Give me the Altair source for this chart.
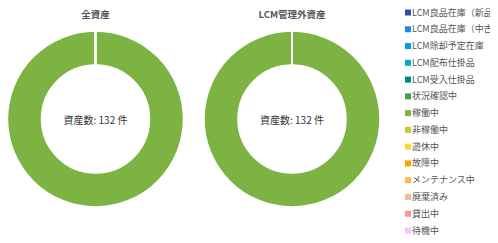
import altair as alt
import pandas as pd

categories = [
    "LCM良品在庫（新品）", "LCM良品在庫（中古品）", "LCM除却予定在庫", "LCM配布仕掛品",
    "LCM受入仕掛品", "状況確認中", "稼働中", "非稼働中", "遊休中", "故障中",
    "メンテナンス中", "廃棄済み", "貸出中", "待機中",
]
colors = [
    "#3949ab", "#1e88e5", "#039be5", "#00acc1", "#00897b", "#43a047", "#7cb342",
    "#c0ca33", "#fdd835", "#ffa000", "#ffb74d", "#efbc9b", "#ef9a9a", "#f0c8f8",
]
all_values = [0, 0, 0, 0, 0, 0, 132, 0, 0, 0, 0, 0, 0, 0]
lcm_values = [0, 0, 0, 0, 0, 0, 132, 0, 0, 0, 0, 0, 0, 0]
panel_titles = ["全資産", "LCM管理外資産"]

FONT = "Noto Sans CJK JP"
color_scale = alt.Scale(domain=categories, range=colors)


def donut(title, values, cx, cy):
    df = pd.DataFrame({"status": categories, "count": values, "idx": list(range(len(categories)))})
    arc = alt.Chart(df).mark_arc(radius=88, radius2=54, stroke="white", strokeWidth=1.5).encode(
        theta=alt.Theta("count:Q", stack=True),
        color=alt.Color("status:N", scale=color_scale, legend=None),
        order=alt.Order("idx:Q"),
        x=alt.value(cx), y=alt.value(cy),
    )
    label = pd.DataFrame({"t": [f"資産数: {sum(values)} 件"]})
    text = alt.Chart(label).mark_text(fontSize=10, font=FONT, color="#333", baseline="middle").encode(
        text="t:N", x=alt.value(cx), y=alt.value(cy + 2)
    )
    ttl = pd.DataFrame({"t": [title]})
    head = alt.Chart(ttl).mark_text(fontSize=9.5, font=FONT, fontWeight="bold", color="#555", baseline="middle").encode(
        text="t:N", x=alt.value(cx), y=alt.value(7)
    )
    return [arc, text, head]


legend_df = pd.DataFrame({"status": categories})
y_enc = alt.Y("status:N", sort=categories, axis=None,
              scale=alt.Scale(type="point", domain=categories, range=[4.5, 222.5], padding=0))
legend_sq = alt.Chart(legend_df).mark_square(size=36, opacity=1).encode(
    x=alt.value(400), y=y_enc,
    color=alt.Color("status:N", scale=color_scale, legend=None),
)
legend_tx = alt.Chart(legend_df).mark_text(
    align="left", baseline="middle", fontSize=9, font=FONT, color="#555",
    limit=90, ellipsis="\u200b",
).encode(
    x=alt.value(404), y=y_enc, text="status:N",
)

layers = donut(panel_titles[0], all_values, 87.5, 111) + donut(panel_titles[1], lcm_values, 284, 111) + [legend_sq, legend_tx]

chart = alt.layer(*layers).properties(
    width=482, height=227, padding=0,
    autosize=alt.AutoSizeParams(type="none"),
).configure_view(stroke=None)

chart.save("out.html", embed_options={"renderer": "svg", "actions": False})
